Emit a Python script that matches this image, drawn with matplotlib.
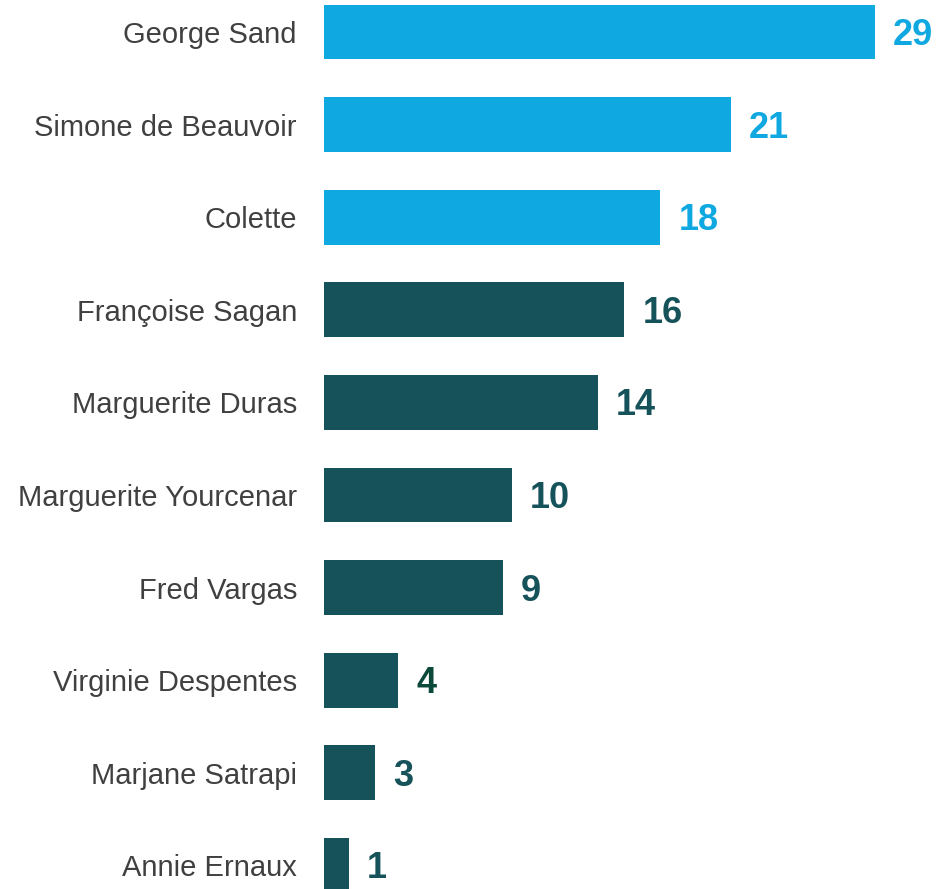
import matplotlib
matplotlib.use("Agg")
import matplotlib.pyplot as plt

names = ["George Sand", "Simone de Beauvoir", "Colette", "Françoise Sagan",
         "Marguerite Duras", "Marguerite Yourcenar", "Fred Vargas",
         "Virginie Despentes", "Marjane Satrapi", "Annie Ernaux"]
values = [29.0, 21.4, 17.7, 15.8, 14.4, 9.9, 9.4, 3.9, 2.7, 1.3]
labels = ["29", "21", "18", "16", "14", "10", "9", "4", "3", "1"]

BLUE = "#10A8E0"
TEAL = "#16525A"
bar_colors = [BLUE] * 3 + [TEAL] * 7
label_colors = [BLUE] * 3 + [TEAL] * 4 + ["#0B4A3A"] + [TEAL] * 2

plt.rcParams['font.family'] = ['Liberation Sans', 'DejaVu Sans']

fig = plt.figure(figsize=(9.4, 8.89), dpi=100)
ax = fig.add_axes([324 / 940, 0, 616 / 940, 1])

ypos = list(range(len(names)))
ax.barh(ypos, values, height=0.59, color=bar_colors, edgecolor='none')

ax.set_xlim(0, 616 / 19)
ax.set_ylim((889 - 32) / 92.6, -32 / 92.6)

for y, v, t, c in zip(ypos, values, labels, label_colors):
    ax.annotate(t, (v, y), xytext=(13.0, -2.5), textcoords='offset points',
                ha='left', va='center', fontsize=26, fontweight='bold', color=c,
                annotation_clip=False)

ax.set_yticks(ypos)
ax.set_yticklabels(names, fontsize=21, color="#404040")
ax.tick_params(axis='y', length=0, pad=19.5)
ax.set_xticks([])
for s in ax.spines.values():
    s.set_visible(False)

fig.savefig("out.png", dpi=100)
